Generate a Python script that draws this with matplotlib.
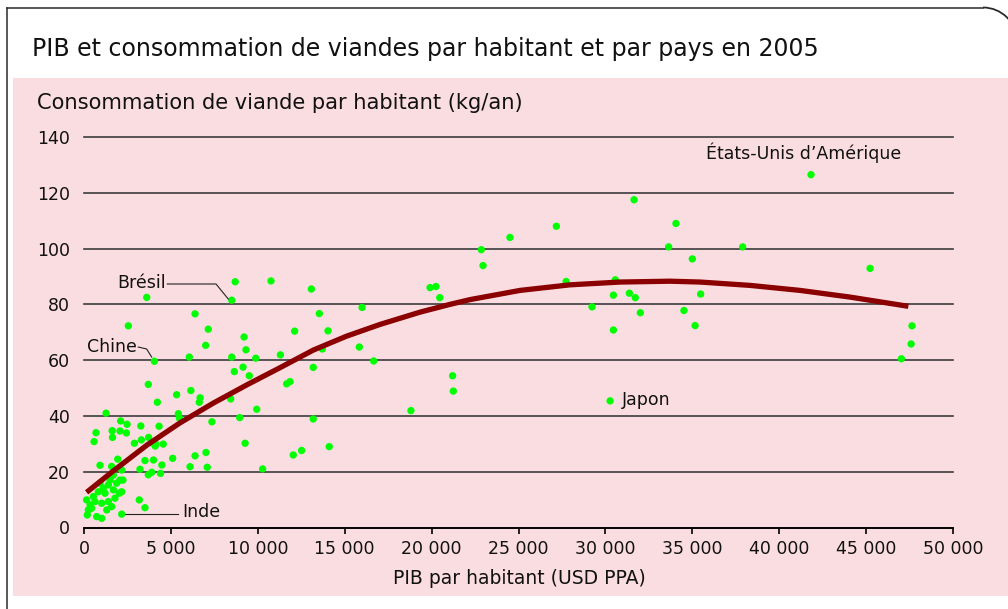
import matplotlib
matplotlib.use("Agg")
import matplotlib.pyplot as plt
from matplotlib.patches import Rectangle, Arc
from matplotlib.lines import Line2D

# ---------------- data ----------------
title = "PIB et consommation de viandes par habitant et par pays en 2005"
y_title = "Consommation de viande par habitant (kg/an)"
x_title = "PIB par habitant (USD PPA)"

x_ticks = [0, 5000, 10000, 15000, 20000, 25000, 30000, 35000, 40000, 45000, 50000]
x_tick_labels = ["0", "5 000", "10 000", "15 000", "20 000", "25 000", "30 000",
                 "35 000", "40 000", "45 000", "50 000"]
y_ticks = [0, 20, 40, 60, 80, 100, 120, 140]

# PIB par habitant (USD PPA) for each country
gdp = [
    41830, 31650, 34060, 27180, 24510, 22860, 33640, 37900, 35000, 22960,
    45230, 13080, 19910, 20250, 27740, 30570, 20470, 30460, 31380, 31720,
    35480, 13540, 16000, 29230, 32010, 34520, 35160, 14040, 30460, 15840,
    13710, 16670, 13190, 21210, 21250, 18810, 13190, 30270, 47640, 47590,
    47030,
    8700, 10760, 3610, 8500, 6390, 2550, 7150, 9210, 12120, 7000,
    9320, 4050, 6060, 8500, 9880, 11300, 8650, 9150, 9510, 3700,
    5330, 6150, 6680, 6630, 11660, 11850, 4220, 8440, 9940, 1270,
    5430, 5490, 7360, 8960, 2110, 2480, 3270, 4320, 1620, 1640,
    2070, 2440, 690, 580, 2900, 3300, 3720, 3870, 4120, 4560,
    4100, 9270, 12040, 12520, 14110, 6390, 7020, 5100, 1940, 920,
    1590, 3510, 4000, 4480, 3220, 3700, 3900, 4400, 6100, 7090,
    10280, 2170, 2240, 2030, 3180, 3510, 2170,
    150, 190, 540, 440, 730, 1020, 820, 1110, 1400, 1690,
    1880, 2070, 2170, 1780, 1400, 1020, 630, 1310, 1590, 350,
    1210, 1500, 920, 1690, 250,
]
# Consommation de viande par habitant (kg/an) for each country
meat = [
    126.5, 117.5, 109.0, 108.0, 104.0, 99.6, 100.6, 100.6, 96.3, 93.9,
    92.9, 85.5, 86.0, 86.4, 88.2, 88.8, 82.4, 83.3, 84.0, 82.4,
    83.7, 76.7, 78.9, 79.1, 77.0, 77.8, 72.4, 70.5, 70.8, 64.7,
    64.0, 59.7, 57.4, 54.4, 48.9, 41.9, 38.9, 45.4, 72.3, 65.8,
    60.5,
    88.1, 88.4, 82.5, 81.5, 76.6, 72.3, 71.1, 68.3, 70.4, 65.3,
    63.7, 59.6, 61.1, 61.1, 60.7, 61.9, 55.9, 57.5, 54.4, 51.3,
    47.6, 49.1, 46.5, 44.9, 51.5, 52.3, 44.9, 46.1, 42.4, 41.0,
    40.8, 39.2, 37.9, 39.4, 38.2, 37.0, 36.4, 36.3, 34.7, 32.3,
    34.6, 33.9, 34.0, 30.8, 30.2, 31.4, 32.3, 30.4, 30.0, 29.9,
    29.2, 30.2, 26.0, 27.6, 29.0, 25.7, 26.9, 24.8, 24.5, 22.3,
    21.9, 24.0, 24.2, 22.4, 20.9, 18.9, 19.8, 19.4, 21.8, 21.6,
    21.0, 20.6, 17.0, 12.3, 9.9, 7.1, 4.8,
    9.9, 4.5, 11.1, 6.9, 3.9, 3.3, 12.8, 14.1, 15.3, 13.5,
    15.9, 17.0, 12.8, 10.5, 9.3, 8.7, 9.3, 6.3, 7.5, 8.1,
    12.3, 17.0, 15.9, 18.8, 6.3,
]

# trend curve
trend_x = [150, 1690, 3610, 5520, 7440, 9360, 11280, 13190, 15110, 17030, 19330,
           21060, 22210, 25090, 27960, 30840, 33720, 35450, 38320, 41200, 44080, 47430]
trend_y = [12.6, 20.3, 29.5, 37.5, 44.6, 51.1, 57.3, 63.6, 68.6, 72.8, 77.2,
           80.0, 81.7, 85.0, 87.0, 88.0, 88.3, 88.0, 86.8, 85.0, 82.6, 79.3]

# ---------------- figure ----------------
W, H = 1008, 609
fig = plt.figure(figsize=(W / 100, H / 100), dpi=100)
fig.patch.set_facecolor("white")

def fx(px):
    return px / W

def fy(py):
    return 1 - py / H

PINK = "#FADDE1"
fig.add_artist(Rectangle((fx(13), fy(596)), fx(W - 13 + 5), (596 - 78) / H,
                         transform=fig.transFigure, facecolor=PINK,
                         edgecolor="none", zorder=0))

# outer frame with a rounded top-right corner
frame_col = "#2a2a2a"
R = 34
fig.add_artist(Line2D([fx(6.5), fx(6.5)], [fy(7.5), fy(612)], transform=fig.transFigure,
                      color=frame_col, lw=1.1, zorder=1))
fig.add_artist(Line2D([fx(6.5), fx(983)], [fy(7.5), fy(7.5)], transform=fig.transFigure,
                      color=frame_col, lw=1.1, zorder=1))
fig.add_artist(Arc((fx(983), fy(7.5 + R)), 2 * R / W, 2 * R / H, theta1=0, theta2=90,
                   transform=fig.transFigure, color=frame_col, lw=1.3, zorder=1))

ax = fig.add_axes([fx(84), fy(527.5), (953 - 84) / W, (527.5 - 137) / H])
ax.patch.set_alpha(0)
ax.set_xlim(0, 50000)
ax.set_ylim(0, 140)

for s in ["top", "right", "left"]:
    ax.spines[s].set_visible(False)
ax.spines["bottom"].set_color("black")
ax.spines["bottom"].set_linewidth(1.3)

ax.set_xticks(x_ticks)
ax.set_xticklabels(x_tick_labels)
ax.set_yticks(y_ticks)
ax.tick_params(axis="x", direction="out", length=4, width=1.2, color="black",
               labelsize=12.5, pad=5)
ax.tick_params(axis="y", length=0, labelsize=12.5, pad=10)
for lab in ax.get_xticklabels() + ax.get_yticklabels():
    lab.set_color("#111111")

ax.yaxis.grid(True, color="#3c3c3c", lw=1.2)
ax.set_axisbelow(True)
for gl in ax.yaxis.get_gridlines():
    gl.set_clip_on(False)

ax.scatter(gdp, meat, s=28, color="#00FF00", edgecolors="none", zorder=2, clip_on=False)
ax.plot(trend_x, trend_y, color="#8B0000", lw=3.8, solid_capstyle="butt",
        solid_joinstyle="round", zorder=3)

# annotations
ann_size = 12.5
ax.text(35790, 134.3, "États-Unis d\u2019Amérique", ha="left", va="center",
        fontsize=ann_size, color="#111111")
ax.text(30940, 45.8, "Japon", ha="left", va="center", fontsize=ann_size, color="#111111")
ax.text(4718, 87.7, "Brésil", ha="right", va="center", fontsize=ann_size, color="#111111")
ax.plot([4793, 7595, 8303], [87.3, 87.3, 81.9], color="#222222", lw=0.8, zorder=4)
ax.text(3032, 64.7, "Chine", ha="right", va="center", fontsize=ann_size, color="#111111")
ax.plot([3124, 3602, 3895], [64.7, 64.0, 61.1], color="#222222", lw=0.8, zorder=4)
ax.text(5679, 5.5, "Inde", ha="left", va="center", fontsize=ann_size, color="#111111")
ax.plot([2359, 5426], [4.7, 4.7], color="#222222", lw=0.8, zorder=4)

# titles
renderer = fig.canvas.get_renderer()

def fit(t, target_w):
    bb = t.get_window_extent(renderer)
    t.set_fontsize(t.get_fontsize() * target_w / bb.width)

t1 = fig.text(fx(32), fy(49), title, ha="left", va="center", fontsize=15, color="#111111")
fit(t1, 788)
t2 = fig.text(fx(37), fy(103), y_title, ha="left", va="center", fontsize=13, color="#111111")
fit(t2, 487)
t3 = fig.text(fx(519), fy(578), x_title, ha="center", va="center", fontsize=13, color="#111111")
fit(t3, 252)

fig.savefig("out.png", dpi=100, facecolor="white")
